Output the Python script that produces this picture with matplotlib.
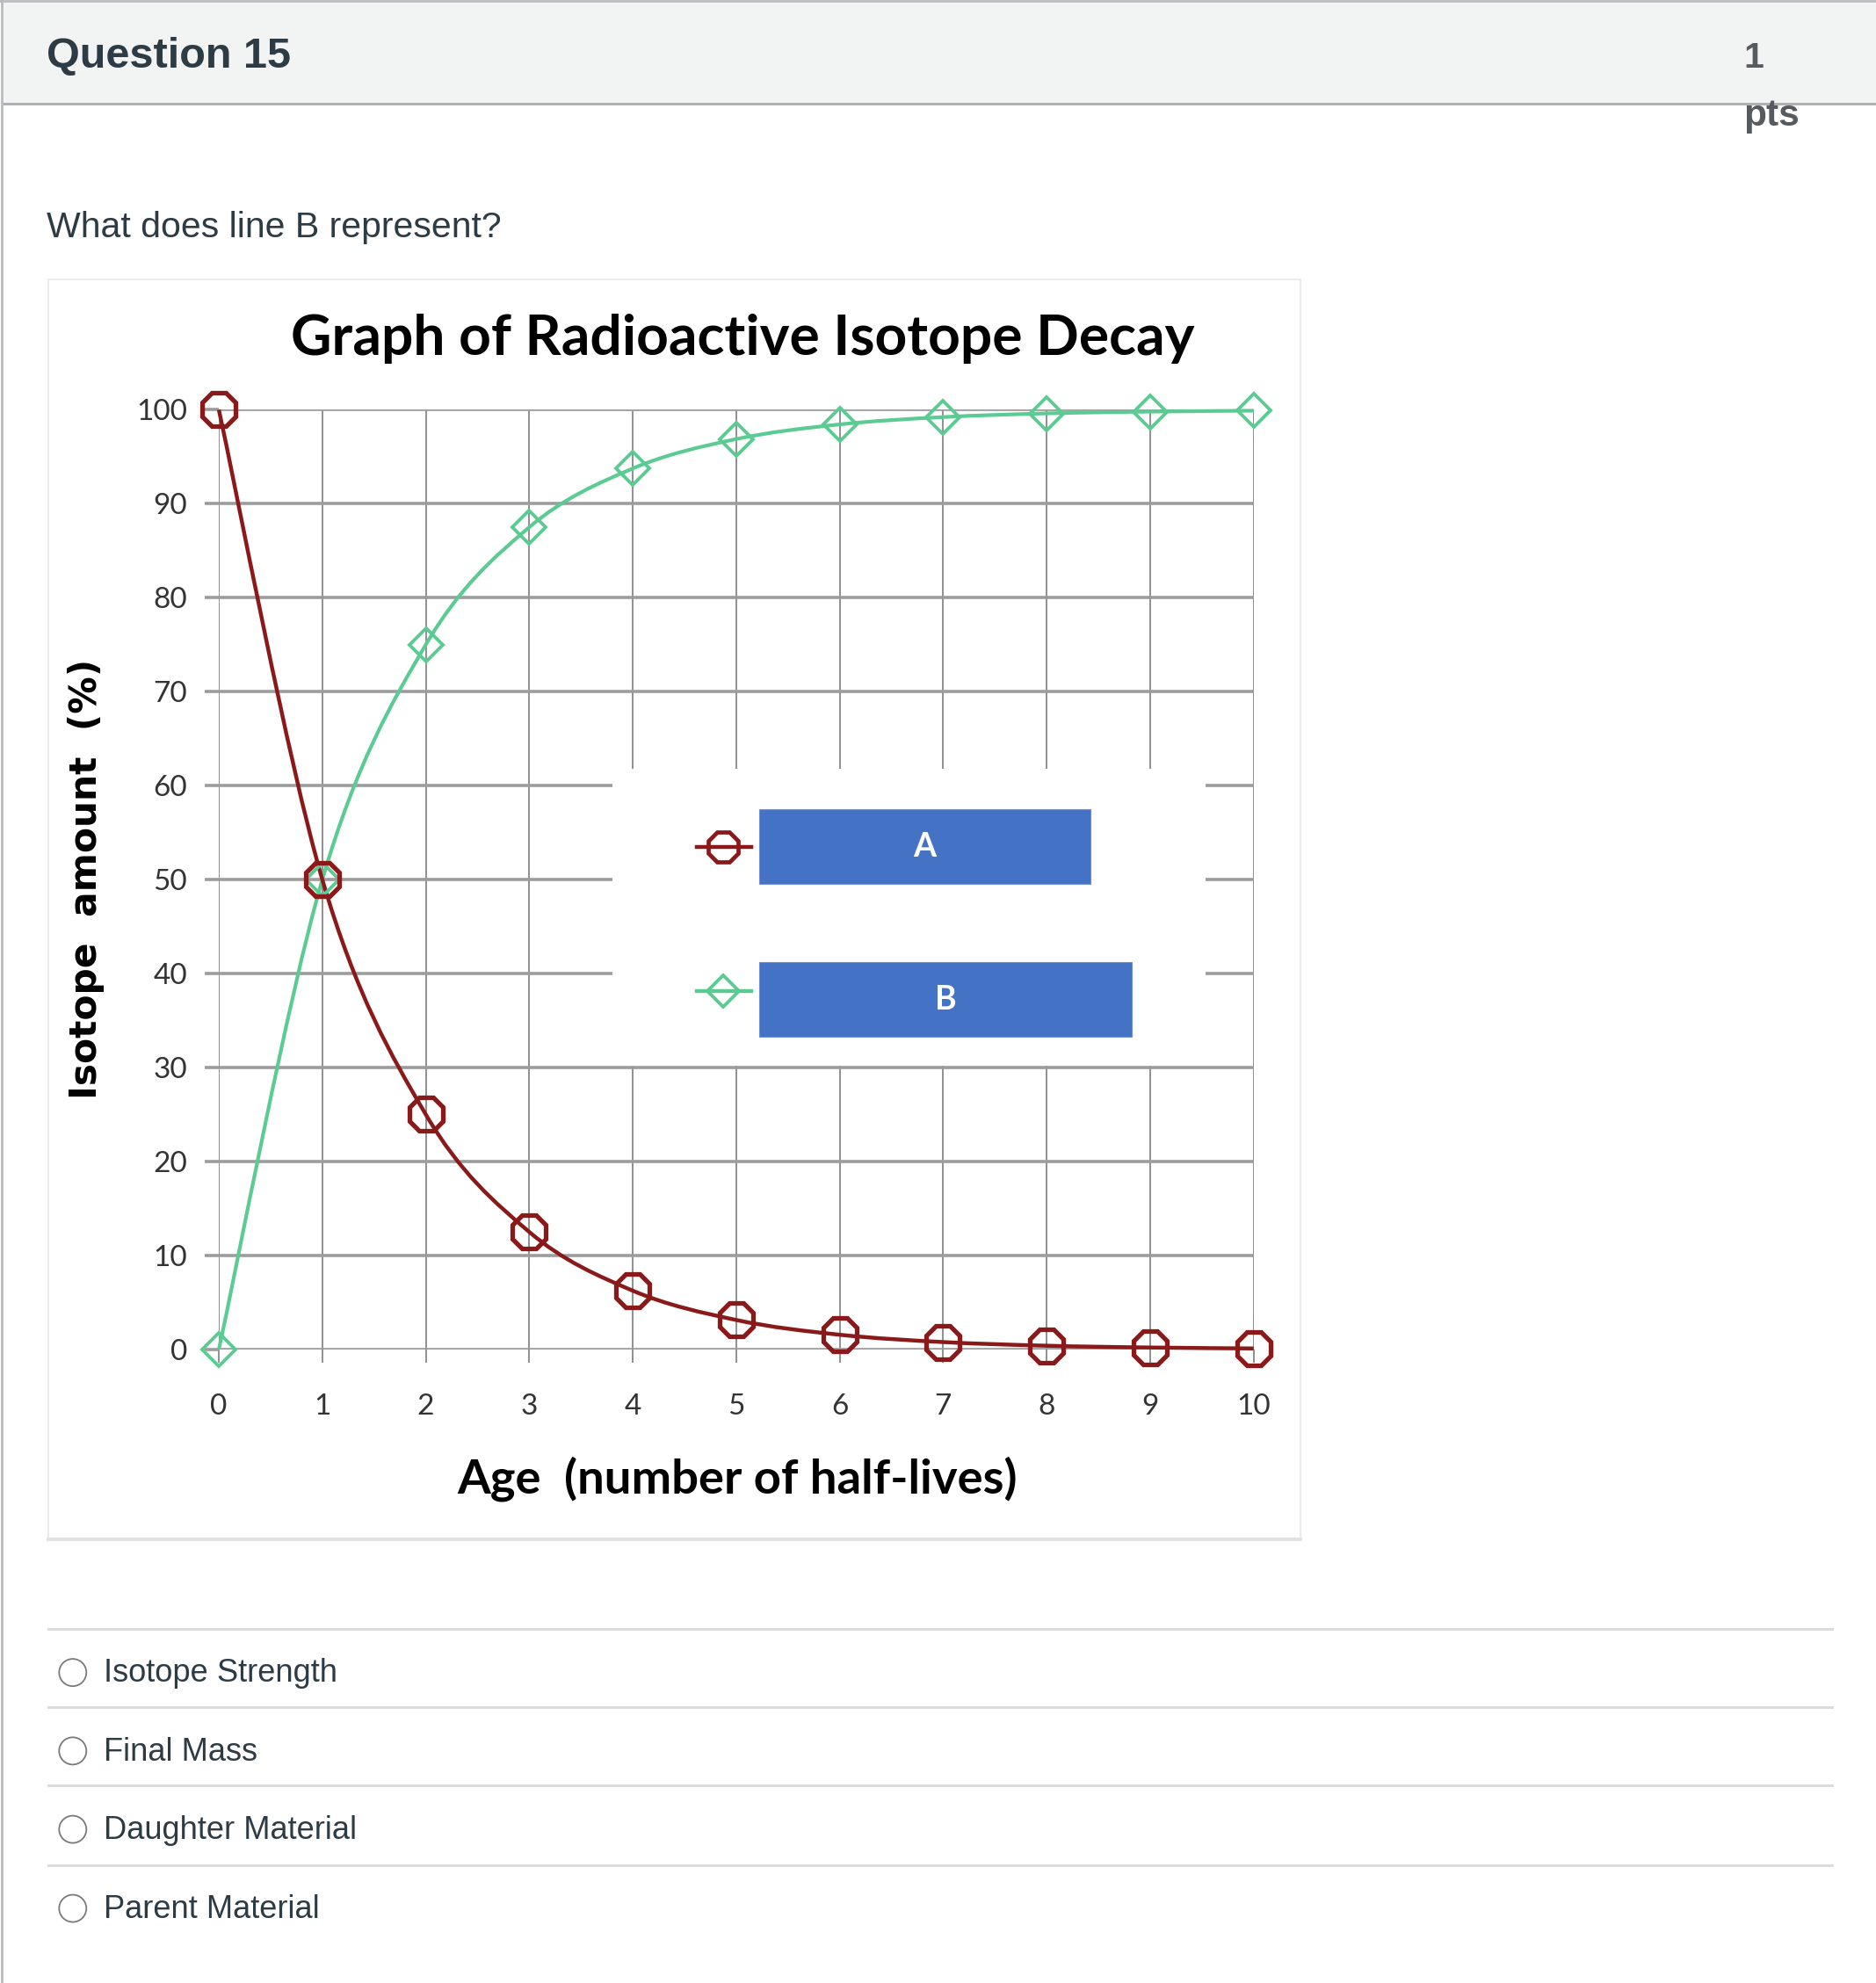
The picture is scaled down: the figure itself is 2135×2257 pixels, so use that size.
import numpy as np
import matplotlib
matplotlib.use("Agg")
import matplotlib.pyplot as plt
from matplotlib.patches import Rectangle, Circle, PathPatch
from matplotlib.lines import Line2D
from matplotlib.path import Path

# ---------------- data ----------------
half_lives = [0, 1, 2, 3, 4, 5, 6, 7, 8, 9, 10]
line_a = [100, 50, 25, 12.5, 6.25, 3.13, 1.56, 0.78, 0.39, 0.2, 0.1]
line_b = [0, 50, 75, 87.5, 93.75, 96.88, 98.44, 99.22, 99.61, 99.8, 99.9]
y_ticks = [0, 10, 20, 30, 40, 50, 60, 70, 80, 90, 100]
x_ticks = half_lives
legend_labels = ["A", "B"]
chart_title = "Graph of Radioactive Isotope Decay"
x_label = "Age  (number of half-lives)"
y_label = "Isotope  amount  (%)"
question_header = "Question 15"
points_text = ["1", "pts"]
question_text = "What does line B represent?"
answer_options = ["Isotope Strength", "Final Mass", "Daughter Material", "Parent Material"]

# ---------------- styles ----------------
RED = "#8a1a1a"
GREEN = "#5ccb93"
BLUE = "#4472c4"
TEXT = "#2d3b45"
GRID_H = "#9c9c9c"
GRID_V = "#8f8f8f"

W, H = 2135, 2257
RW, RH = 1483.0, 1568.0          # reference (shrunk) coordinate frame
def fx(x): return x / RW
def fy(y): return 1 - y / RH

fig = plt.figure(figsize=(W / 100, H / 100), dpi=100)
fig.patch.set_facecolor("white")

# ---------------- page chrome ----------------
fig.add_artist(Rectangle((fx(2), fy(82)), 1 - fx(2), 80 / RH, transform=fig.transFigure,
                         facecolor="#f2f4f4", edgecolor="none", zorder=-2))
fig.add_artist(Line2D([0, 1], [fy(0.6), fy(0.6)], transform=fig.transFigure,
                      color="#b8bcbe", lw=2.0, zorder=1))
fig.add_artist(Line2D([fx(2), 1], [fy(82), fy(82)], transform=fig.transFigure,
                      color="#a9adaf", lw=2.0, zorder=1))
fig.add_artist(Line2D([fx(1.2), fx(1.2)], [0, 1], transform=fig.transFigure,
                      color="#b8bcbe", lw=2.0, zorder=1))

fig.text(fx(37), fy(53.5), question_header, family="Liberation Sans", weight="bold",
         fontsize=35, color=TEXT, va="baseline", ha="left")
fig.text(fx(1378.5), fy(53.5), points_text[0], family="Liberation Sans", weight="bold",
         fontsize=29.5, color="#565b5f", va="baseline", ha="left", zorder=3)
fig.text(fx(1378.5), fy(99.5), points_text[1], family="Liberation Sans", weight="bold",
         fontsize=30.5, color="#565b5f", va="baseline", ha="left", zorder=3)
fig.text(fx(37), fy(187.5), question_text, family="Liberation Sans",
         fontsize=29.5, color=TEXT, va="baseline", ha="left")

# chart image frame
fig.add_artist(Rectangle((fx(38), fy(1217)), fx(1028) - fx(38), (1217 - 221) / RH,
                         transform=fig.transFigure, facecolor="white",
                         edgecolor="#ececec", lw=1.5, zorder=-1))
fig.add_artist(Line2D([fx(38), fx(1028)], [fy(1217), fy(1217)], transform=fig.transFigure,
                      color="#e2e2e2", lw=3.0, zorder=1))

# answer options
sep_y = [1288, 1350, 1412, 1475]
for yy in sep_y:
    fig.add_artist(Line2D([fx(38), fx(1448)], [fy(yy), fy(yy)], transform=fig.transFigure,
                          color="#dcdcdc", lw=2.2, zorder=1))
opt_base = [1330, 1392, 1454, 1516.5]
for txt, yb in zip(answer_options, opt_base):
    fig.text(fx(82), fy(yb), txt, family="Liberation Sans", fontsize=26.1,
             color=TEXT, va="baseline", ha="left")
    cy = yb - 7.5
    fig.add_artist(Circle((fx(57.5) * W, fy(cy) * H), 15.5, transform=None,
                          facecolor="white", edgecolor="#7a7a7a", lw=1.3, zorder=2))

# ---------------- chart ----------------
ax = fig.add_axes([fx(173), fy(1067), fx(991) - fx(173), (1067 - 324) / RH])
ax.set_facecolor("none")
ax.set_xlim(0, 10)
ax.set_ylim(0, 100)
for s in ax.spines.values():
    s.set_visible(False)
ax.set_xticks(x_ticks)
ax.set_yticks(y_ticks)
ax.set_xticklabels([str(v) for v in x_ticks])
ax.set_yticklabels([str(v) for v in y_ticks])
ax.grid(axis="y", color=GRID_H, lw=2.6, zorder=0)
ax.grid(axis="x", color=GRID_V, lw=1.4, zorder=0)
ax.set_axisbelow(True)
ax.tick_params(axis="y", length=11.5, width=2.6, color=GRID_H, pad=14.5,
               labelsize=24, labelcolor="#333333")
ax.tick_params(axis="x", length=11, width=1.4, color=GRID_V, pad=25,
               labelsize=24, labelcolor="#333333")
for lab in ax.get_xticklabels() + ax.get_yticklabels():
    lab.set_family("Lato")


def smooth_path(xs, ys):
    pts = np.column_stack([xs, ys]).astype(float)
    n = len(pts)
    verts = [pts[0]]
    codes = [Path.MOVETO]
    for i in range(n - 1):
        p0 = pts[i - 1] if i > 0 else pts[i]
        p1 = pts[i]
        p2 = pts[i + 1]
        p3 = pts[i + 2] if i + 2 < n else pts[i + 1]
        verts += [p1 + (p2 - p0) / 6.0, p2 - (p3 - p1) / 6.0, p2]
        codes += [Path.CURVE4] * 3
    return Path(verts, codes)


ax.add_patch(PathPatch(smooth_path(half_lives, line_b), facecolor="none", edgecolor=GREEN,
                       lw=3.0, zorder=3, clip_on=False))
ax.add_patch(PathPatch(smooth_path(half_lives, line_a), facecolor="none", edgecolor=RED,
                       lw=3.2, zorder=3.5, clip_on=False))
ax.plot(half_lives, line_b, ls="none", marker="D", ms=19.5, mfc="none", mec=GREEN,
        mew=2.8, clip_on=False, zorder=4)
ax.plot(half_lives, line_a, ls="none", marker="8", ms=29, mfc="none", mec=RED,
        mew=3.8, clip_on=False, zorder=4.5)

# titles / axis labels
fig.text(fx(587), fy(280.5), chart_title, family="Lato", weight="bold", fontsize=46.2,
         color="black", ha="center", va="baseline")
fig.text(fx(582.5), fy(1180.5), x_label, family="Lato", weight="bold", fontsize=39.2,
         color="black", ha="center", va="baseline")
fig.text(fx(68), fy(695), y_label, family="DejaVu Sans", weight="bold", fontsize=30.5,
         color="black", ha="center", va="center", rotation=90)

# legend (white background covering grid, markers, and blue label boxes)
fig.add_artist(Rectangle((fx(484), fy(843)), fx(953) - fx(484), (843 - 608) / RH,
                         transform=fig.transFigure, facecolor="white", edgecolor="none",
                         zorder=2))
leg_y = [670, 783.5]
leg_style = [dict(color=RED, marker="8", ms=27, mew=3.4),
             dict(color=GREEN, marker="D", ms=18, mew=2.8)]
box_right = [862, 895]
box_top = [640, 761]
box_bot = [699, 820]
for lbl, yy, st, br, bt, bb in zip(legend_labels, leg_y, leg_style, box_right, box_top, box_bot):
    fig.add_artist(Line2D([fx(551), fx(594)], [fy(yy), fy(yy)], transform=fig.transFigure,
                          color=st["color"], lw=3.2, zorder=3))
    fig.add_artist(Line2D([fx(572)], [fy(yy)], transform=fig.transFigure, ls="none",
                          marker=st["marker"], ms=st["ms"], mfc="none",
                          mec=st["color"], mew=st["mew"], zorder=3.5))
    fig.add_artist(Rectangle((fx(600), fy(bb)), fx(br) - fx(600), (bb - bt) / RH,
                             transform=fig.transFigure, facecolor=BLUE,
                             edgecolor="#6f8fd0", lw=0.8, zorder=3))
    fig.text((fx(600) + fx(br)) / 2, fy((bt + bb) / 2), lbl, family="Lato", weight="bold",
             fontsize=27, color="white", ha="center", va="center", zorder=4)

fig.savefig("out.png", dpi=100, facecolor="white")
